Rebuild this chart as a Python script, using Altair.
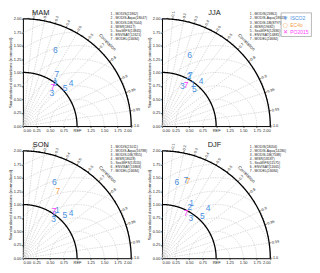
import altair as alt
import pandas as pd
import numpy as np

seasons = ["MAM", "JJA", "SON", "DJF"]

# data: (label, normalised std, correlation, reference)
mam_labels = ["6", "7", "1", "2", "3", "4", "5", "7"]
mam_std = [1.54, 1.16, 1.03, 1.00, 0.81, 1.20, 1.05, 0.92]
mam_corr = [0.39, 0.54, 0.58, 0.59, 0.66, 0.74, 0.74, 0.60]
mam_ref = ["ISCO2"] * 7 + ["PO2015"]

jja_labels = ["6", "7", "2", "1", "3", "4", "5", "7"]
jja_std = [1.41, 1.09, 1.06, 0.97, 0.84, 1.11, 0.92, 0.89]
jja_corr = [0.36, 0.48, 0.47, 0.59, 0.45, 0.65, 0.65, 0.50]
jja_ref = ["ISCO2"] * 7 + ["PO2015"]

son_labels = ["6", "7", "1", "2", "3", "4", "5", "7"]
son_std = [1.53, 1.40, 1.10, 1.00, 0.93, 1.22, 1.12, 1.05]
son_corr = [0.38, 0.46, 0.58, 0.58, 0.61, 0.73, 0.69, 0.55]
son_ref = ["ISCO2", "EC4o", "ISCO2", "ISCO2", "ISCO2", "ISCO2", "ISCO2", "PO2015"]

djf_labels = ["6", "7", "7", "1", "2", "3", "4", "5", "7"]
djf_std = [1.44, 1.52, 1.51, 1.16, 1.08, 0.92, 1.27, 1.08, 0.95]
djf_corr = [0.19, 0.29, 0.32, 0.47, 0.47, 0.58, 0.67, 0.69, 0.47]
djf_ref = ["ISCO2", "ISCO2", "EC4o", "ISCO2", "ISCO2", "ISCO2", "ISCO2", "ISCO2", "PO2015"]

mam_legend = ["1 - MODIS(21862)", "2 - MODIS-Aqua(18047)", "3 - MODIS-DB(7044)", "4 - MISR(18617)",
              "5 - SeaWiFS(13845)", "6 - ENVISAT(12621)", "7 - MODEL(24684)"]
jja_legend = ["1 - MODIS(23861)", "2 - MODIS-Aqua(18613)", "3 - MODIS-DB(8797)", "4 - MISR(19682)",
              "5 - SeaWiFS(12680)", "6 - ENVISAT(14881)", "7 - MODEL(24684)"]
son_legend = ["1 - MODIS(21011)", "2 - MODIS-Aqua(16788)", "3 - MODIS-DB(7855)", "4 - MISR(18028)",
              "5 - SeaWiFS(13555)", "6 - ENVISAT(13868)", "7 - MODEL(24684)"]
djf_legend = ["1 - MODIS(18056)", "2 - MODIS-Aqua(14280)", "3 - MODIS-DB(7588)", "4 - MISR(18187)",
              "5 - SeaWiFS(11575)", "6 - ENVISAT(11665)", "7 - MODEL(24684)"]

ref_names = ["ISCO2", "EC4o", "PO2015"]
ref_colors = ["#4a8fe0", "#f5a04e", "#ff3cff"]

corr_ticks = [0.1, 0.2, 0.3, 0.4, 0.5, 0.6, 0.7, 0.8, 0.9, 0.95, 0.99]
rms_radii = [0.25, 0.5, 0.75, 1.0, 1.25, 1.5, 1.75, 2.0, 2.25, 2.5, 2.75]
axis_vals = [0, 0.25, 0.5, 0.75, 1.0, 1.25, 1.5, 1.75, 2.0]

panels_data = {
    "MAM": (mam_labels, mam_std, mam_corr, mam_ref, mam_legend),
    "JJA": (jja_labels, jja_std, jja_corr, jja_ref, jja_legend),
    "SON": (son_labels, son_std, son_corr, son_ref, son_legend),
    "DJF": (djf_labels, djf_std, djf_corr, djf_ref, djf_legend),
}
title_x = {"MAM": 0.33, "JJA": 0.97, "SON": 0.33, "DJF": 0.97}

FONT = "Liberation Sans"
PW = 109
PH = 108
sc = alt.Scale(domain=[0, 2], nice=False, zero=False)

# ---- grid geometry ----
rows = []
for k, r in enumerate(rms_radii):
    seg = 0
    prev_in = False
    for j, phi in enumerate(np.linspace(0, np.pi, 400)):
        x = 1 + r * np.cos(phi)
        y = r * np.sin(phi)
        inside = (x * x + y * y <= 4.0) and x >= 0
        if inside:
            if not prev_in:
                seg += 1
            rows.append({"x": x, "y": y, "g": f"r{k}_{seg}", "o": j})
        prev_in = inside
for k, c in enumerate(corr_ticks):
    th = np.arccos(c)
    rows.append({"x": 0, "y": 0, "g": f"c{k}", "o": 0})
    rows.append({"x": 2 * np.cos(th), "y": 2 * np.sin(th), "g": f"c{k}", "o": 1})
grid_df = pd.DataFrame(rows)

arc_rows = []
for rr in [1.0, 2.0]:
    for j, th in enumerate(np.linspace(0, np.pi / 2, 200)):
        arc_rows.append({"x": rr * np.cos(th), "y": rr * np.sin(th), "g": str(rr), "o": j})
arc_df = pd.DataFrame(arc_rows)

cl_rows = []
tick_rows = []
for c in corr_ticks + [1.0]:
    th = np.arccos(c)
    lab = "1.0" if c == 1.0 else str(c)
    cl_rows.append({"x": 2.05 * np.cos(th), "y": 2.05 * np.sin(th), "t": lab,
                    "a": (360 - np.degrees(th)) % 360})
    tick_rows.append({"x": 2 * np.cos(th), "y": 2 * np.sin(th),
                      "x2": 2.04 * np.cos(th), "y2": 2.04 * np.sin(th)})
for c in [0.05, 0.15, 0.25, 0.35, 0.45, 0.55, 0.65, 0.75, 0.85, 0.91, 0.92, 0.93, 0.94,
          0.96, 0.97, 0.98]:
    th = np.arccos(c)
    tick_rows.append({"x": 2 * np.cos(th), "y": 2 * np.sin(th),
                      "x2": 2.02 * np.cos(th), "y2": 2.02 * np.sin(th)})
cl_df = pd.DataFrame(cl_rows)
tick_df = pd.DataFrame(tick_rows)

lab_expr = "datum.value == 1 ? 'REF' : format(datum.value, '.2f')"

X = alt.X("x:Q", scale=sc, title=None,
          axis=alt.Axis(values=axis_vals, labelExpr=lab_expr, grid=False))
Y = alt.Y("y:Q", scale=sc, title="Standardised deviations (normalised)",
          axis=alt.Axis(values=axis_vals, format=".2f", grid=False))


def panel(name, show_box=False):
    labels, std, corr, ref, legend = panels_data[name]
    std = np.array(std)
    corr = np.array(corr)
    th = np.arccos(corr)
    pts = pd.DataFrame({"x": std * np.cos(th), "y": std * np.sin(th),
                        "lab": labels, "ref": ref})
    color = alt.Color("ref:N", scale=alt.Scale(domain=ref_names, range=ref_colors), legend=None)

    grid = alt.Chart(grid_df).mark_line(color="#b8b8b8", strokeWidth=0.5,
                                        strokeDash=[1.5, 1.0]).encode(
        x=X, y=Y, detail="g:N", order="o:Q")
    arcs = alt.Chart(arc_df).mark_line(color="black", strokeWidth=1.3).encode(
        x=X, y=Y, detail="g:N", order="o:Q")
    ticks = alt.Chart(tick_df).mark_rule(color="black", strokeWidth=0.5).encode(
        x=X, y=Y, x2="x2:Q", y2="y2:Q")
    clab = alt.Chart(cl_df).mark_text(fontSize=3.8, font=FONT, align="left",
                                      baseline="middle", color="#222").encode(
        x=X, y=Y, text="t:N", angle=alt.Angle("a:Q", scale=None))
    ctitle = alt.Chart(pd.DataFrame({"x": [2.2 * np.cos(np.pi / 4)],
                                     "y": [2.2 * np.sin(np.pi / 4)],
                                     "t": ["Correlation"]})).mark_text(
        fontSize=4.5, font=FONT, angle=45, color="#222").encode(x=X, y=Y, text="t:N")
    ttl = alt.Chart(pd.DataFrame({"x": [title_x[name]], "y": [2.11], "t": [name]})).mark_text(
        fontSize=7.5, font=FONT, color="#222", baseline="middle").encode(x=X, y=Y, text="t:N")
    leg_df = pd.DataFrame({"x": [1.62] * len(legend),
                           "y": [2.08 - 0.075 * i for i in range(len(legend))],
                           "t": legend})
    leg = alt.Chart(leg_df).mark_text(fontSize=3.4, font=FONT, align="left",
                                      baseline="middle", color="#222").encode(
        x=X, y=Y, text="t:N")
    marks = alt.Chart(pts).mark_text(fontSize=8.5, font=FONT).encode(
        x=X, y=Y, text="lab:N", color=color)
    layers = [grid, arcs, ticks, clab, ctitle, ttl, leg, marks]
    if show_box:
        box = alt.Chart(pd.DataFrame({"x": [2.2], "x2": [2.76], "y": [2.11], "y2": [1.67]})).mark_rect(
            fill=None, stroke="#888", strokeWidth=0.6).encode(x=X, y=Y, x2="x2:Q", y2="y2:Q")
        bl = pd.DataFrame({"x": [2.37] * 3, "y": [2.02, 1.89, 1.76], "t": ref_names, "ref": ref_names})
        btxt = alt.Chart(bl).mark_text(fontSize=5, font=FONT, align="left", baseline="middle").encode(
            x=X, y=Y, text="t:N", color=color)
        bsym = pd.DataFrame({"x": [2.28] * 3, "y": [2.02, 1.89, 1.76], "t": ["✳", "○", "✕"], "ref": ref_names})
        bs = alt.Chart(bsym).mark_text(fontSize=6, font="DejaVu Sans", baseline="middle").encode(
            x=X, y=Y, text="t:N", color=color)
        layers += [box, btxt, bs]
    return alt.layer(*layers).properties(width=PW, height=PH)


chart = alt.concat(panel("MAM"), panel("JJA", True), panel("SON"), panel("DJF"),
                   columns=2, spacing=alt.RowColnumber(row=25, column=31),
                   bounds="flush").properties(padding=0).configure_view(
    stroke=None).configure_axis(
    labelFont=FONT, titleFont=FONT, labelFontSize=4, titleFontSize=4.3,
    titleFontWeight="normal", labelColor="#222", titleColor="#222",
    domainColor="black", domainWidth=1, tickColor="black", tickSize=1.5,
    tickWidth=0.6, labelPadding=0.5, titlePadding=1)

chart.save("out.html", embed_options={"renderer": "svg", "actions": False})
